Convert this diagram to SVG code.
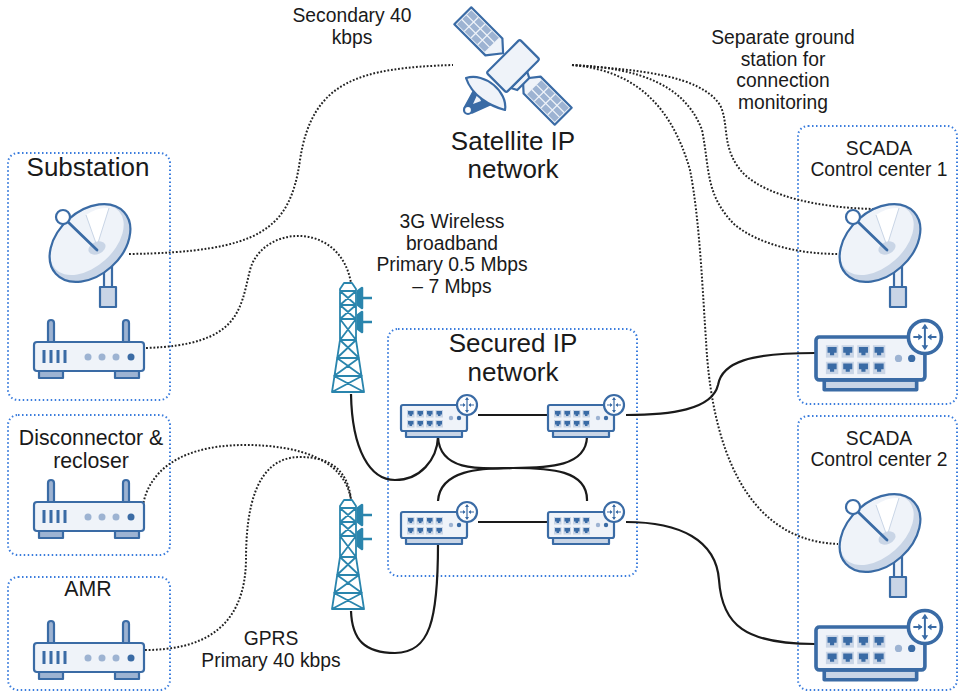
<svg xmlns="http://www.w3.org/2000/svg" width="959" height="696" viewBox="0 0 959 696">
<style>
text{font-family:"Liberation Sans",Arial,sans-serif;fill:#1a1a1a;text-anchor:middle}
.s{font-size:19.3px}.m{font-size:21.3px}.l{font-size:26px}
.box{fill:#fff;stroke:#3b7ddd;stroke-width:2;stroke-dasharray:1.5 2.5}
.dot{fill:none;stroke:#222;stroke-width:2;stroke-dasharray:1.8 1.8}
.sol{fill:none;stroke:#1a1a1a;stroke-width:2.2}
.o{stroke:#3a6ba5;stroke-width:2.2;stroke-linejoin:round;stroke-linecap:round}
.f1{fill:#eff3f9}.f2{fill:#c9d5e6}.f3{fill:#9db3d2}.f4{fill:#3a6ba5}
.t{fill:none;stroke:#2a85ad;stroke-width:1.8;stroke-linejoin:round;stroke-linecap:round}
</style>
<defs>
<g id="router">
<rect class="o f3" x="14" y="-22" width="6" height="24" rx="3"/>
<rect class="o f3" x="89" y="-22" width="6" height="24" rx="3"/>
<rect class="o f3" x="5" y="29" width="24" height="7"/>
<rect class="o f3" x="81" y="29" width="24" height="7"/>
<rect class="o f1" x="0" y="0" width="110" height="29" rx="3"/>
<path d="M10 8v13M17 8v13M24 8v13M31 8v13" stroke="#3a6ba5" stroke-width="3" fill="none"/>
<circle class="f3" cx="54" cy="15" r="3.500"/><circle class="f3" cx="68" cy="15" r="3.500"/><circle class="f3" cx="82" cy="15" r="3.500"/><circle class="f4" cx="97" cy="15" r="3.500"/>
</g>
<g id="port"><rect class="f2" width="7.500" height="7.500"/><path class="f4" d="M1 1h5.500v3.500h-1.500v1.500h-2.500v-1.500h-1.500z"/></g>
<g id="switch">
<rect class="o f2" x="5" y="26" width="56" height="6"/>
<rect class="o f1" x="0" y="0" width="66" height="26" rx="2"/>
<use href="#port" x="6" y="5"/><use href="#port" x="15.500" y="5"/><use href="#port" x="25" y="5"/><use href="#port" x="34.500" y="5"/>
<use href="#port" x="6" y="15"/><use href="#port" x="15.500" y="15"/><use href="#port" x="25" y="15"/><use href="#port" x="34.500" y="15"/>
<circle class="f3" cx="50" cy="13" r="2.200"/><circle class="f4" cx="58" cy="13" r="2.200"/>
<circle class="o" fill="#fff" cx="66" cy="0" r="10"/>
<path d="M66 -7v14M59 0h5M68 0h5" stroke="#3a6ba5" stroke-width="1.200" fill="none"/>
<path d="M66 -8l-2 3h4zM66 8l-2 -3h4zM64.500 0l-2.500 -2v4zM67.500 0l2.500 -2v4z" fill="#3a6ba5"/>
</g>
<g id="dish">
<rect class="o f1" x="55" y="58" width="8" height="27"/>
<rect class="o f2" x="51" y="85" width="16" height="20"/>
<ellipse class="f2" cx="41" cy="41" rx="46" ry="32" transform="rotate(-42 41 41)"/>
<ellipse class="f1" cx="38" cy="38" rx="43" ry="27" transform="rotate(-42 38 38)"/>
<path d="M48 44L37 13Q48 5 60 6Z" fill="#fff"/>
<ellipse class="f2" cx="48" cy="46" rx="9" ry="6" transform="rotate(-25 48 46)"/>
<path d="M48 44l-11 -31M48 44l12 -38" stroke="#c9d5e6" stroke-width="1" fill="none"/>
<ellipse fill="none" class="o" cx="41" cy="41" rx="46" ry="32" transform="rotate(-42 41 41)"/>
<path class="o" d="M19 20l29 28" fill="none" style="stroke-width:2.800"/>
<circle class="o" fill="#fff" cx="14" cy="15" r="7"/>
</g>
<g id="tower">
<path class="t" d="M13 0h8l4 6V57l8 52H1l8-52V6zM9 8h16M9 22h16M9 36h16M9 57h16M6 75h22M3 93h28M9 8l16 14M25 8l-16 14M9 22l16 14M25 22l-16 14M9 36l16 21M25 36l-16 21M9 57l19 18M25 57l-19 18M6 75l25 18M28 75l-25 18M3 93l30 16M31 93l-30 16"/>
<path d="M27 8l4-3v20l-4-3zM31 15h10M27 32l4-3v20l-4-3zM31 39h10" stroke="#2a85ad" stroke-width="2.500" fill="#2a85ad" stroke-linejoin="round"/>
</g>
<g id="panel">
<path class="o f1" d="M-12 -71H12V-27L2 -16L-12 -27Z"/>
<path class="f3" d="M-10 -69H10V-30L-10 -30Z"/>
<path d="M-3.300 -69V-30M3.300 -69V-30M-10 -59H10M-10 -49.500H10M-10 -40H10" stroke="#eff3f9" stroke-width="1.300"/>
</g>
</defs>
<rect width="959" height="696" fill="#fff"/>
<g id="substation-box"><rect class="box" x="8" y="153" width="162" height="247" rx="10"/></g>
<g id="disconnector-box"><rect class="box" x="8" y="415" width="162" height="140" rx="10"/></g>
<g id="amr-box"><rect class="box" x="8" y="577" width="162" height="113" rx="10"/></g>
<g id="secured-box"><rect class="box" x="388" y="329" width="249" height="247" rx="10"/></g>
<g id="scada1-box"><rect class="box" x="798" y="126" width="159" height="278" rx="10"/></g>
<g id="scada2-box"><rect class="box" x="798" y="416" width="159" height="274" rx="10"/></g>
<g id="connectors">
<path class="dot" d="M129 254C260 252 290 230 300 160C312 80 360 68 453 65"/>
<path class="dot" d="M146 348C240 345 240 310 250 270C262 225 340 220 351 283"/>
<path class="dot" d="M142 517C142 480 170 445 245 445C300 445 345 460 351 500"/>
<path class="dot" d="M145 650C200 650 245 630 246 560C246 510 255 457 300 457C330 457 348 470 351 500"/>
<path class="dot" d="M572 65C640 70 700 75 720 105C730 125 720 150 745 175C770 197 820 208 875 209"/>
<path class="dot" d="M572 65C640 68 685 85 702 130C710 170 705 195 735 225C760 245 800 254 838 254"/>
<path class="dot" d="M572 65C630 70 670 100 690 170C700 220 703 300 706 340C709 400 725 540 838 544"/>
<path class="sol" d="M351 394C352 450 370 480 395 480C420 480 437 460 438 437"/>
<path class="sol" d="M438 437C440 475 490 468 513 468C550 468 586 466 587 437"/>
<path class="sol" d="M438 501C440 470 480 468 513 468C550 468 588 470 587 501"/>
<path class="sol" d="M478 415H547"/>
<path class="sol" d="M478 522H547"/>
<path class="sol" d="M626 415C670 415 712 410 718 385C722 362 750 353 815 353"/>
<path class="sol" d="M626 522C680 522 716 540 719 580C722 625 745 644 815 644"/>
<path class="sol" d="M351 611C352 640 365 653 395 653C430 653 438 620 438 544"/>
</g>
<g id="satellite">
<g transform="translate(513 66) rotate(-45)">
<use href="#panel"/>
<use href="#panel" transform="rotate(180)"/>
<path class="o f1" d="M-17 14L-14 20H3L6 14Z"/>
<rect class="o f1" x="-23.500" y="-14" width="47" height="28" rx="2"/>
</g>
<path class="f4" d="M476 86L464 108L472 113L492 104Z" stroke="#3a6ba5" stroke-width="1.500" stroke-linejoin="round"/>
<path class="f1" d="M478 93L481 101L473 104Z"/>
<path class="o f1" d="M466 78C485 72 508 92 505 110C490 106 472 96 466 78Z"/>
<circle class="o" fill="#fff" cx="468" cy="110" r="4"/>
</g>
<g id="substation"><text class="l" x="88" y="176">Substation</text>
<use href="#dish" x="49" y="202"/><use href="#router" x="34" y="342"/></g>
<g id="disconnector"><text class="m" x="91" y="445">Disconnector &amp;</text><text class="m" x="91" y="468">recloser</text><use href="#router" x="34" y="502"/></g>
<g id="amr"><text class="m" x="88" y="596">AMR</text><use href="#router" x="34" y="643"/></g>
<g id="satellite-label"><text class="l" x="513" y="150">Satellite IP</text><text class="l" x="513" y="178">network</text></g>
<g id="secondary-label"><text class="s" x="352" y="22">Secondary 40</text><text class="s" x="352" y="44">kbps</text></g>
<g id="ground-label"><text class="s" x="783" y="44">Separate ground</text><text class="s" x="783" y="66">station for</text><text class="s" x="783" y="87">connection</text><text class="s" x="783" y="109">monitoring</text></g>
<g id="wireless-label"><text class="s" x="452" y="228">3G Wireless</text><text class="s" x="452" y="250">broadband</text><text class="s" x="452" y="271">Primary 0.5 Mbps</text><text class="s" x="452" y="293">– 7 Mbps</text></g>
<g id="gprs-label"><text class="s" x="271" y="645">GPRS</text><text class="s" x="271" y="667">Primary 40 kbps</text></g>
<g id="tower1"><use href="#tower" x="331" y="283"/></g>
<g id="tower2"><use href="#tower" x="331" y="500"/></g>
<g id="secured"><text class="l" x="513" y="352">Secured IP</text><text class="l" x="513" y="381">network</text>
<use href="#switch" x="401" y="405"/><use href="#switch" x="548" y="405"/><use href="#switch" x="401" y="512"/><use href="#switch" x="548" y="512"/></g>
<g id="scada1"><text class="s" x="879" y="155">SCADA</text><text class="s" x="879" y="176">Control center 1</text>
<use href="#dish" x="839" y="202"/><use href="#switch" transform="translate(816 337) scale(1.65)"/></g>
<g id="scada2"><text class="s" x="879" y="445">SCADA</text><text class="s" x="879" y="466">Control center 2</text>
<use href="#dish" x="839" y="492"/><use href="#switch" transform="translate(816 627) scale(1.65)"/></g>
</svg>
